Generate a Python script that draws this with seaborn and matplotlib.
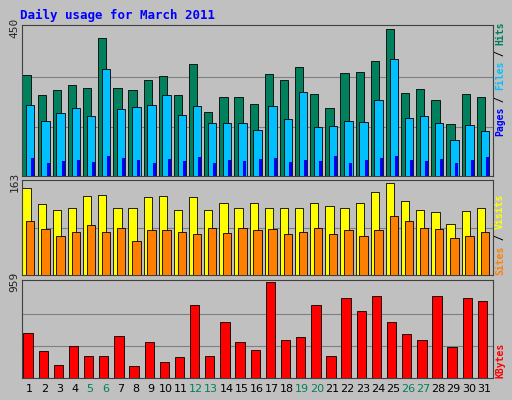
import numpy as np
import matplotlib
matplotlib.use("Agg")
import matplotlib.pyplot as plt
import seaborn as sns

days = list(range(1, 32))
weekend = [5, 6, 12, 13, 19, 20, 26, 27]
hits = [307, 246, 261, 277, 267, 420, 267, 261, 292, 304, 246, 340, 195, 240, 240, 219,
        310, 292, 331, 249, 207, 313, 316, 350, 447, 252, 264, 231, 158, 249, 240]
files = [216, 167, 191, 207, 182, 325, 204, 210, 216, 246, 185, 213, 161, 161, 161, 140,
         213, 173, 255, 149, 152, 167, 164, 231, 355, 176, 182, 161, 109, 155, 137]
pages = [55, 40, 45, 50, 42, 60, 55, 48, 40, 52, 45, 58, 40, 48, 45, 52,
         55, 42, 50, 45, 60, 40, 50, 55, 62, 48, 45, 52, 40, 50, 58]
visits = [152, 124, 113, 117, 138, 140, 117, 117, 136, 138, 113, 136, 113, 126, 117, 126,
          117, 117, 117, 126, 120, 117, 126, 145, 161, 129, 113, 110, 89, 112, 117]
sites = [94, 80, 69, 76, 87, 76, 83, 60, 78, 78, 76, 71, 82, 74, 83, 78,
         80, 71, 76, 82, 71, 78, 69, 78, 103, 94, 82, 80, 64, 69, 76]
kbytes = [453, 274, 126, 316, 221, 221, 421, 116, 358, 158, 211, 727, 221, 558, 358, 284,
          959, 379, 411, 727, 221, 801, 664, 822, 558, 442, 379, 822, 305, 801, 769]

sns.set_style("white")
plt.rcParams['font.family'] = ['DejaVu Sans Mono', 'DejaVu Sans']
bg = '#C0C0C0'
fig = plt.figure(figsize=(5.12, 4.0), dpi=100, facecolor=bg)

W, H = 512, 400
def ax_at(x0, y0, x1, y1):
    return fig.add_axes([x0 / W, (H - y1) / H, (x1 - x0) / W, (y1 - y0) / H])

x = np.array(days, dtype=float)
axs = [ax_at(22, 25, 493, 176), ax_at(22, 180, 493, 275), ax_at(22, 280, 493, 378)]
tops = [450, 163, 959]

for ax, top in zip(axs, tops):
    ax.set_facecolor(bg)
    ax.set_xlim(0.5, 31.6)
    ax.set_ylim(0, top * 1.02)
    n = 3 if top != 163 else 2
    for k in range(1, n):
        ax.axhline(top * k / n, color='#808080', lw=0.8, zorder=0)
    ax.set_yticks([top])
    ax.set_yticklabels([str(top)], rotation=90, va='center', fontsize=8)
    ax.tick_params(axis='y', length=0, pad=2)
    ax.set_xticks([])
    for s in ax.spines.values():
        s.set_color('#404040')

ek = dict(edgecolor='black', linewidth=0.6)
axs[0].bar(x - 0.2, hits, width=0.55, color='#00805C', **ek, zorder=2)
axs[0].bar(x + 0.05, files, width=0.55, color='#00C0FF', **ek, zorder=3)
axs[0].bar(x + 0.22, pages, width=0.2, color='#0000FF', linewidth=0, zorder=4)

axs[1].bar(x - 0.2, visits, width=0.55, color='#FFFF00', **ek, zorder=2)
axs[1].bar(x + 0.05, sites, width=0.55, color='#FF8000', **ek, zorder=3)

sns.barplot(x=x - 0.1, y=kbytes, native_scale=True, width=0.62, color='#FF0000',
            saturation=1, ax=axs[2], edgecolor='black', linewidth=0.6, zorder=2)
axs[2].set_xlim(0.5, 31.6)
axs[2].set_xticks(days)
axs[2].set_xticklabels([str(d) for d in days], fontsize=8, family='DejaVu Sans')
axs[2].tick_params(axis='x', length=0, pad=4)
for lbl, d in zip(axs[2].get_xticklabels(), days):
    lbl.set_color('#00805C' if d in weekend else 'black')
axs[2].set_ylabel('')

fig.text(20 / W, 1 - 15 / H, 'Daily usage for March 2011', color='#0000FF',
         fontsize=9, fontweight='bold', va='center')

def vlabel(y, parts):
    # stacked vertical label read bottom-to-top
    yy = y
    for txt, col in parts:
        fig.text(500 / W, yy / H, txt, color=col, rotation=90, fontsize=7,
                 fontweight='bold', ha='center', va='bottom')
        yy += len(txt) * 5.7
vlabel(H - 136, [('Pages', '#0000FF'), (' / ', 'black'), ('Files', '#00C0FF'),
                 (' / ', 'black'), ('Hits', '#00805C')])
vlabel(H - 275, [('Sites', '#FF8000'), (' / ', 'black'), ('Visits', '#FFFF00')])
vlabel(H - 378, [('KBytes', '#FF0000')])

fig.savefig('out.png', dpi=100, facecolor=bg)
